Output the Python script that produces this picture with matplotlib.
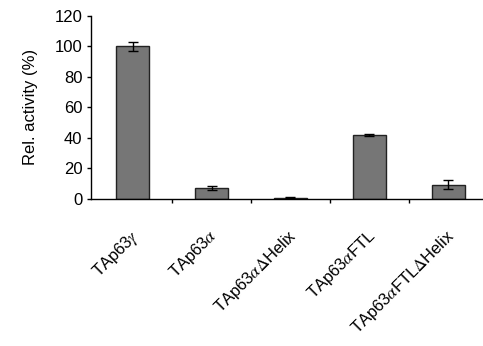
import numpy as np
import matplotlib
matplotlib.use("Agg")
import matplotlib.pyplot as plt
from matplotlib.ticker import FixedLocator
import matplotlib.transforms as mtransforms

plt.rcParams['font.family'] = ['Liberation Sans', 'DejaVu Sans']
plt.rcParams['mathtext.fontset'] = 'stix'

# data
labels = [r'TAp63$\gamma$', r'TAp63$\alpha$', r'TAp63$\alpha\mathit{\Delta}$Helix',
          r'TAp63$\alpha$FTL', r'TAp63$\alpha$FTL$\mathit{\Delta}$Helix']
activity = [100, 7, 0.7, 41.5, 9]
errors = [2.8, 1.2, 0.3, 0.7, 3.0]
y_ticks = [0, 20, 40, 60, 80, 100, 120]

fig = plt.figure(figsize=(4.83, 3.46), dpi=100)
ax = fig.add_axes([0.188, 0.426, 0.812, 0.528])

x = np.arange(len(activity))
ax.bar(x, activity, width=0.42, color='#767676', edgecolor='#222222', linewidth=1.0,
       yerr=errors, capsize=3.5, error_kw=dict(ecolor='black', elinewidth=1.0, capthick=1.0))

ax.set_xlim(-0.53, 4.44)
ax.set_ylim(0, 120)
ax.set_yticks(y_ticks)
ax.tick_params(axis='y', labelsize=12, length=3, width=1, pad=3)
ax.set_ylabel('Rel. activity (%)', fontsize=12, labelpad=12)

# boundary ticks between categories
ax.xaxis.set_minor_locator(FixedLocator([0.5, 1.5, 2.5, 3.5]))
ax.tick_params(axis='x', which='minor', length=3, width=1)
ax.set_xticks(x)
ax.set_xticklabels(labels, rotation=45, ha='right', va='top', rotation_mode='anchor', fontsize=12)
ax.tick_params(axis='x', which='major', length=0, pad=20)
offset = mtransforms.ScaledTranslation(-3 / 100, 0, fig.dpi_scale_trans)
for lab in ax.get_xticklabels():
    lab.set_transform(lab.get_transform() + offset)

for side in ['top', 'right']:
    ax.spines[side].set_visible(False)
ax.spines['left'].set_linewidth(1)
ax.spines['bottom'].set_linewidth(1)

fig.savefig('out.png', dpi=100)
